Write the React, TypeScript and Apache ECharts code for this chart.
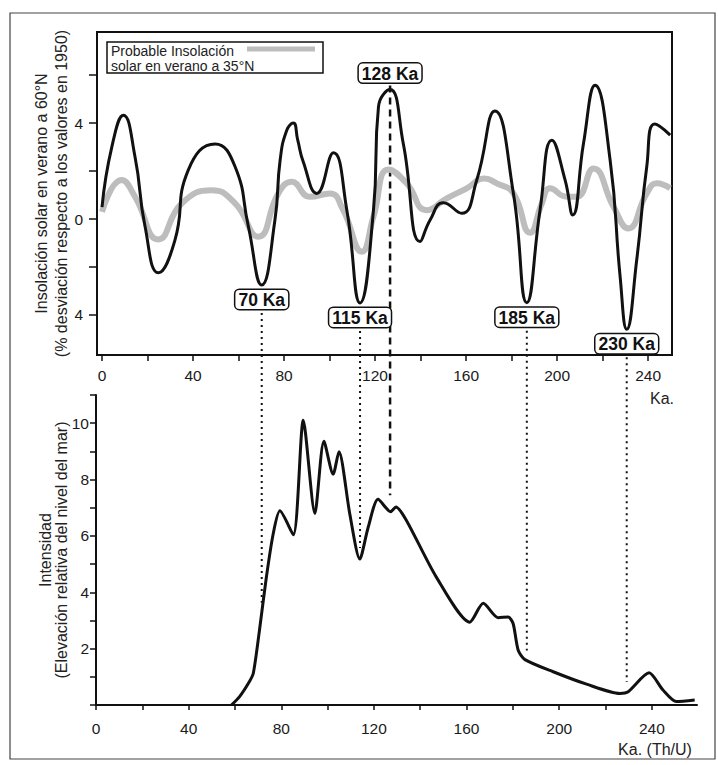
import React, { useEffect, useRef } from "react";
import * as echarts from "echarts";

// ---- Upper panel: summer insolation anomaly (% vs 1950) ----
const ageTop60 = [0, 4.3, 9.4, 14.5, 18.9, 24.8, 32, 37.9, 49.7, 58.5, 64.3, 70.2, 76, 78.3, 81.2, 84.1, 86, 88.4, 94.4, 101.7, 107.6, 113.4, 119.3, 121.5, 126.6, 132.4, 139.8, 144.2, 150, 158.1, 164.7, 172.7, 180.8, 186.7, 192.5, 197.7, 203.5, 206.9, 211.6, 216.7, 223.3, 227.7, 230.6, 235, 239.4, 243, 249.7];
const insol60N = [0.5, 3.0, 4.33, 2.6, -0.3, -2.24, -0.9, 2.04, 3.13, 2.18, -0.3, -2.75, -0.04, 2.47, 3.7, 4.0, 3.3, 2.4, 1.07, 2.76, 0.37, -3.5, 0.37, 4.68, 5.4, 3.15, -0.94, -0.04, 0.68, 0.24, 1.63, 4.51, 1.07, -3.49, 0.37, 3.29, 1.63, 0.17, 3.15, 5.58, 2.46, -2.4, -4.6, -1.7, 2.18, 3.96, 3.5];

const ageTop35 = [0, 8.6, 14.5, 24.8, 35, 48.2, 58.5, 68.7, 77.5, 83.4, 91.4, 100.2, 106, 114.2, 119.3, 125.9, 133.9, 142.7, 151.5, 160.3, 168, 173.5, 180.8, 188.1, 193.3, 196.9, 204.3, 208.7, 216, 224.8, 231.3, 239.4, 243.8, 249.7];
const insol35N = [0.3, 1.63, 0.93, -0.85, 0.65, 1.2, 0.65, -0.74, 1.07, 1.55, 0.93, 1.07, 0.37, -1.36, 0.1, 2.07, 1.49, 0.37, 0.86, 1.28, 1.69, 1.49, 1.07, -0.57, 0.65, 1.28, 0.93, 0.93, 2.11, 0.51, -0.39, 1.07, 1.49, 1.28];

// ---- Lower panel: relative sea-level intensity ----
const ageBottom = [58.5, 62, 66, 67.9, 70.5, 73.5, 76.5, 79.4, 85.2, 89.5, 94.5, 98.4, 102.4, 104.9, 109.6, 113.9, 117.5, 121.8, 127.2, 129.5, 134.1, 147, 161.4, 167.2, 173.6, 178, 180.1, 182.3, 185.2, 197.4, 211.8, 226.2, 229.8, 238.8, 244.8, 250.6, 258.5];
const seaLevel = [0, 0.3, 0.8, 1.12, 2.6, 4.5, 6.07, 6.89, 6.04, 10.1, 6.8, 9.36, 8.19, 8.99, 6.77, 5.18, 6.3, 7.3, 6.86, 7.03, 6.54, 4.53, 2.94, 3.61, 3.1, 3.12, 2.89, 1.94, 1.61, 1.18, 0.74, 0.41, 0.47, 1.14, 0.53, 0.12, 0.18];

// ---- Ticks ----
const topXTicks = [0, 20, 40, 60, 80, 100, 120, 140, 160, 180, 200, 220, 240];
const topXLabels = [0, 40, 80, 120, 160, 200, 240];
const topYTicks = [-4, -2, 0, 2, 4, 6];
const topYLabels = [-4, 0, 4];
const bottomXTicks = [0, 20, 40, 60, 80, 100, 120, 140, 160, 180, 200, 220, 240];
const bottomXLabels = [0, 40, 80, 120, 160, 200, 240];
const bottomYLabels = [2, 4, 6, 8, 10];

// ---- Annotations ----
const annotationAges = [70, 115, 128, 185, 230];
const annotationLabels = ["70 Ka", "115 Ka", "128 Ka", "185 Ka", "230 Ka"];
const annotationKinds = ["min", "min", "max", "min", "min"];
const annotationStyles = ["dotted", "dotted", "dashed", "dotted", "dotted"];

const FONT = "'Liberation Sans', Arial, Helvetica, sans-serif";

const zip = (xs: number[], ys: number[]) => xs.map((x, i) => [x, ys[i]]);

function interp(xs: number[], ys: number[], x: number) {
  if (x <= xs[0]) return ys[0];
  for (let i = 1; i < xs.length; i++) {
    if (x <= xs[i]) {
      const t = (x - xs[i - 1]) / (xs[i] - xs[i - 1]);
      return ys[i - 1] + t * (ys[i] - ys[i - 1]);
    }
  }
  return ys[ys.length - 1];
}

export default function App() {
  const ref = useRef<HTMLDivElement>(null);

  useEffect(() => {
    if (!ref.current) return;
    const chart = echarts.init(ref.current, null, { renderer: "svg" });

    const axisLabelStyle = { fontSize: 15.5, color: "#1a1a1a", fontFamily: FONT };

    const option: any = {
      animation: false,
      backgroundColor: "#ffffff",
      grid: [
        { left: 97, top: 32, width: 575, height: 323, show: true, borderColor: "#111", borderWidth: 2, backgroundColor: "transparent" },
        { left: 96, top: 395, width: 601, height: 310, show: false },
      ],
      xAxis: [
        {
          gridIndex: 0, type: "value", min: -2.2, max: 250.5,
          axisLine: { show: true, onZero: false, lineStyle: { color: "#111", width: 2 } },
          axisTick: { show: true, customValues: topXTicks, length: 6, lineStyle: { color: "#111", width: 1.5 } },
          axisLabel: { customValues: topXLabels, margin: 12, ...axisLabelStyle },
          splitLine: { show: false },
        },
        {
          gridIndex: 1, type: "value", min: 0, max: 259.5,
          axisLine: { show: true, onZero: false, lineStyle: { color: "#111", width: 2 } },
          axisTick: { show: true, customValues: bottomXTicks, length: 5, lineStyle: { color: "#111", width: 1.5 } },
          axisLabel: { customValues: bottomXLabels, margin: 15, ...axisLabelStyle },
          splitLine: { show: false },
        },
      ],
      yAxis: [
        {
          gridIndex: 0, type: "value", min: -5.67, max: 7.8,
          axisLine: { show: true, onZero: false, lineStyle: { color: "#111", width: 2 } },
          axisTick: { show: true, customValues: topYTicks, length: 8, lineStyle: { color: "#111", width: 1.5 } },
          axisLabel: { customValues: topYLabels, margin: 14, formatter: (v: number) => String(Math.abs(v)), ...axisLabelStyle },
          splitLine: { show: false },
          name: "Insolación solar en verano a 60°N\n(% desviación respecto a los valores en 1950)",
          nameLocation: "middle", nameRotate: 90, nameGap: 26, nameMoveOverlap: false,
          nameTextStyle: { fontSize: 16, lineHeight: 20, color: "#222", fontFamily: FONT },
        },
        {
          gridIndex: 1, type: "value", min: 0, max: 11, interval: 1,
          axisLine: { show: true, onZero: false, lineStyle: { color: "#111", width: 2 } },
          axisTick: { show: true, length: 6, lineStyle: { color: "#111", width: 1.5 } },
          axisLabel: { customValues: bottomYLabels, margin: 7, ...axisLabelStyle },
          splitLine: { show: false },
          name: "Intensidad\n(Elevación relativa del nivel del mar)",
          nameLocation: "middle", nameRotate: 90, nameGap: 27, nameMoveOverlap: false,
          nameTextStyle: { fontSize: 16, lineHeight: 16, color: "#222", fontFamily: FONT },
        },
      ],
      series: [
        {
          name: "Probable Insolación solar en verano a 35°N",
          type: "line", xAxisIndex: 0, yAxisIndex: 0, data: zip(ageTop35, insol35N),
          smooth: 0.5, symbol: "none", z: 2,
          lineStyle: { color: "#bdbdbd", width: 6 },
        },
        {
          name: "Insolación 60°N",
          type: "line", xAxisIndex: 0, yAxisIndex: 0, data: zip(ageTop60, insol60N),
          smooth: 0.5, symbol: "none", z: 3,
          lineStyle: { color: "#111", width: 3 },
        },
        {
          name: "Nivel del mar",
          type: "line", xAxisIndex: 1, yAxisIndex: 1, data: zip(ageBottom, seaLevel),
          smooth: 0.25, symbol: "none", z: 3,
          lineStyle: { color: "#111", width: 3 },
        },
      ],
    };
    chart.setOption(option);

    const graphics: any[] = [];
    // outer frame
    graphics.push({ type: "rect", shape: { x: 10, y: 13, width: 705, height: 746 }, style: { fill: "none", stroke: "#444", lineWidth: 1.2 }, z: 0, silent: true });
    // legend box
    graphics.push({ type: "rect", shape: { x: 107, y: 42, width: 216, height: 31 }, style: { fill: "#fff", stroke: "#111", lineWidth: 1.5 }, z: 10 });
    graphics.push({ type: "text", x: 111, y: 51, style: { text: "Probable Insolación", font: `14px ${FONT}`, fill: "#222", textVerticalAlign: "middle" }, z: 11 });
    graphics.push({ type: "text", x: 111, y: 66, style: { text: "solar en verano a 35°N", font: `14px ${FONT}`, fill: "#222", textVerticalAlign: "middle" }, z: 11 });
    graphics.push({ type: "line", shape: { x1: 247, y1: 49, x2: 315, y2: 49 }, style: { stroke: "#bdbdbd", lineWidth: 5 }, z: 11 });
    // axis unit names
    graphics.push({ type: "text", x: 662, y: 398, style: { text: "Ka.", font: `16px ${FONT}`, fill: "#222", textAlign: "center", textVerticalAlign: "middle" }, z: 11 });
    graphics.push({ type: "text", x: 655, y: 749, style: { text: "Ka. (Th/U)", font: `16px ${FONT}`, fill: "#222", textAlign: "center", textVerticalAlign: "middle" }, z: 11 });

    annotationAges.forEach((age, i) => {
      const isMax = annotationKinds[i] === "max";
      let bestX = age, bestY = isMax ? -Infinity : Infinity;
      ageTop60.forEach((x, j) => {
        if (Math.abs(x - age) <= 4) {
          const y = insol60N[j];
          if ((isMax && y > bestY) || (!isMax && y < bestY)) { bestY = y; bestX = x; }
        }
      });
      const p = chart.convertToPixel({ gridIndex: 0 }, [bestX, bestY]) as number[];
      const px = p[0], py = p[1];
      const labelH = 21;
      let labelTop: number, lineStart: number;
      if (isMax) {
        labelTop = py - 5 - labelH;
        lineStart = py - 4;
      } else {
        labelTop = py + 5;
        lineStart = labelTop + labelH + 2;
      }
      const bx = (chart.convertFromPixel({ gridIndex: 1 }, [px, 700]) as number[])[0];
      const by = interp(ageBottom, seaLevel, bx);
      const bp = chart.convertToPixel({ gridIndex: 1 }, [bx, by]) as number[];
      const lineEnd = bp[1] - (isMax ? 16 : 10);
      const dashed = annotationStyles[i] === "dashed";
      graphics.push({
        type: "line", shape: { x1: px, y1: lineStart, x2: px, y2: lineEnd },
        style: { stroke: "#111", lineWidth: dashed ? 2.5 : 2, lineDash: dashed ? [7, 5] : [2, 4] }, z: 1, silent: true,
      });
      graphics.push({
        type: "text", x: px, y: labelTop,
        style: {
          text: annotationLabels[i], font: `bold 17.5px ${FONT}`, fill: "#111",
          textAlign: "center", textVerticalAlign: "top",
          backgroundColor: "#fff", borderColor: "#111", borderWidth: 1.5, borderRadius: 4, padding: [1, 3, 0, 3],
        },
        z: 12,
      });
    });

    chart.setOption({ graphic: graphics });

    return () => chart.dispose();
  }, []);

  return <div ref={ref} style={{ position: "absolute", left: 0, top: 0, width: 718, height: 765 }} />;
}
